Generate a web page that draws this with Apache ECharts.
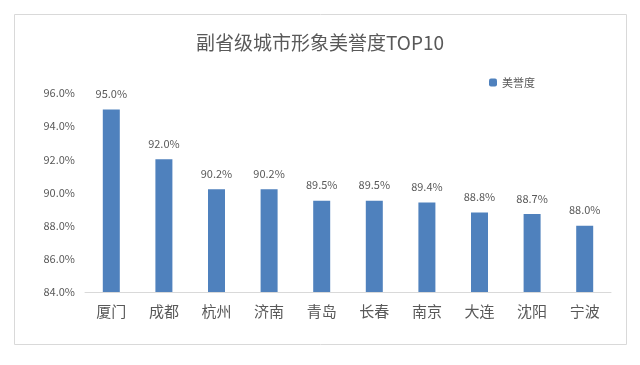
<!DOCTYPE html>
<html><head><meta charset="utf-8">
<script src="https://cdn.jsdelivr.net/npm/echarts@6/dist/echarts.min.js"></script>
<style>html,body{margin:0;padding:0;background:#fff}#c{width:640px;height:365px}</style>
</head><body><div id="c"></div>
<script>
const categories = ['厦门','成都','杭州','济南','青岛','长春','南京','大连','沈阳','宁波'];
const values = [95.0, 92.0, 90.2, 90.2, 89.5, 89.5, 89.4, 88.8, 88.7, 88.0];
const seriesName = '美誉度';
const titleText = '副省级城市形象美誉度TOP10';
const yMin = 84, yMax = 96, yStep = 2;

const font = '"Noto Sans CJK SC", "Noto Sans", sans-serif';
const chart = echarts.init(document.getElementById('c'));
chart.setOption({
  animation: false,
  graphic: [{type:'rect', shape:{x:14.5,y:14.5,width:612,height:330}, style:{fill:'none', stroke:'#d9d9d9', lineWidth:1}, z:-1}],
  title: {text: titleText, left: 'center', top: 28, textStyle:{fontFamily:font, fontSize:19, fontWeight:'normal', color:'#595959'}},
  legend: {data:[seriesName], left: 484, top: 72, itemWidth: 8, itemHeight: 8, itemGap: 5, textStyle:{fontFamily:font, fontSize:11, color:'#595959'}},
  grid: {left: 85, right: 29, top: 93, bottom: 73, containLabel: false},
  xAxis: {type:'category', data: categories,
    axisLine:{lineStyle:{color:'#d9d9d9'}}, axisTick:{show:false},
    axisLabel:{fontFamily:font, fontSize:15, color:'#595959', margin:12}},
  yAxis: {type:'value', min:yMin, max:yMax, interval:yStep,
    axisLine:{show:false}, axisTick:{show:false}, splitLine:{show:false},
    axisLabel:{fontFamily:font, fontSize:11, color:'#595959', margin:10, formatter: v => v.toFixed(1)+'%'}},
  series: [{name: seriesName, type:'bar', data: values, barWidth: 17,
    itemStyle:{color:'#4f81bd'},
    label:{show:true, position:'top', distance:10, fontFamily:font, fontSize:11, color:'#595959', formatter: p => p.value.toFixed(1)+'%'}}]
});
</script></body></html>
